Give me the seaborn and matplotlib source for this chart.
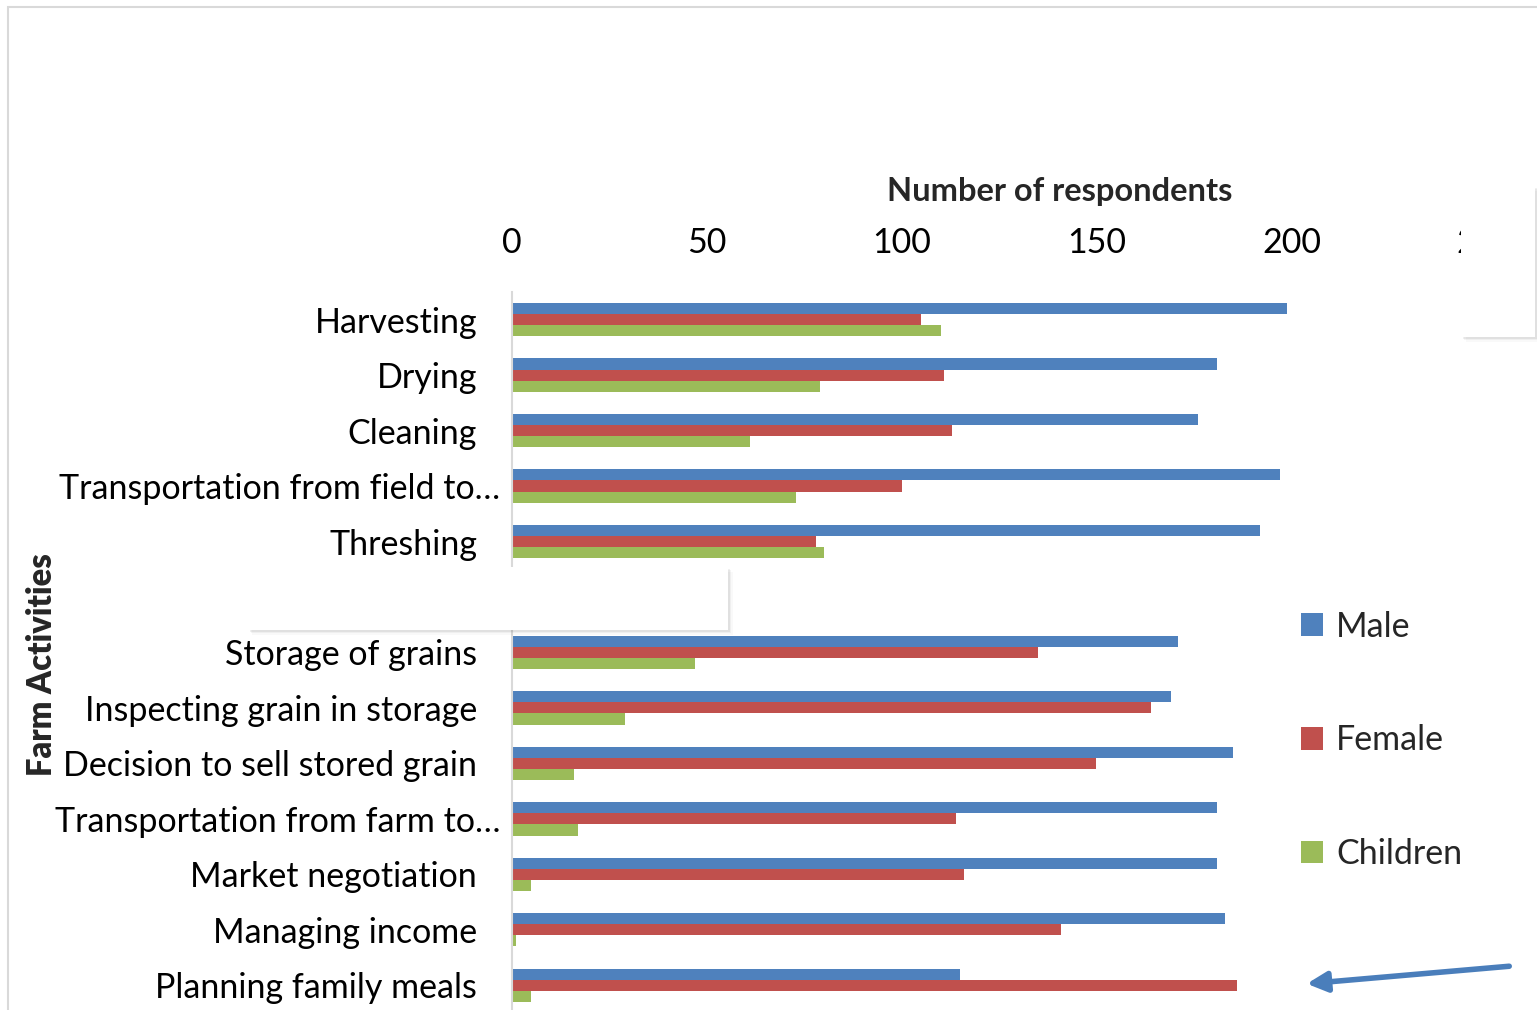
import matplotlib
matplotlib.use("Agg")
import matplotlib.pyplot as plt
import matplotlib.transforms as mtransforms
from matplotlib.patches import Rectangle, Patch
import numpy as np
import pandas as pd
import seaborn as sns

# Data
activities = ["Harvesting", "Drying", "Cleaning", "Transportation from field to\u2026",
              "Threshing", "", "Storage of grains", "Inspecting grain in storage",
              "Decision to sell stored grain", "Transportation from farm to\u2026",
              "Market negotiation", "Managing income", "Planning family meals"]
male = [199, 181, 176, 197, 192, 0, 171, 169, 185, 181, 181, 183, 115]
female = [105, 111, 113, 100, 78, 0, 135, 164, 150, 114, 116, 141, 186]
children = [110, 79, 61, 73, 80, 0, 47, 29, 16, 17, 5, 1, 5]
groups = ["Male", "Female", "Children"]
colors = ["#4F81BD", "#C0504D", "#9BBB59"]

df = pd.DataFrame({
    "activity": activities * 3,
    "group": np.repeat(groups, len(activities)),
    "value": male + female + children,
})

sns.set_theme(style="white")
plt.rcParams["font.family"] = ["Lato", "DejaVu Sans"]
FS = 24.5

fig = plt.figure(figsize=(15.37, 10.10), dpi=100)
ax = fig.add_axes([0.333, -0.003, 0.634, 0.714])

sns.barplot(data=df, x="value", y="activity", hue="group", order=activities,
            hue_order=groups, palette=colors, orient="h", width=0.6,
            linewidth=0, saturation=1, ax=ax, legend=False)

ax.set_xlim(0, 250)
ax.set_xticks([0, 50, 100, 150, 200, 250])
ax.xaxis.tick_top()
ax.xaxis.set_label_position("top")
ax.tick_params(axis="x", length=0, pad=24, labelsize=FS, colors="black")
ax.tick_params(axis="y", length=0, pad=25, labelsize=FS, colors="black")
ax.set_xlabel("Number of respondents", fontsize=FS - 1, fontweight="bold")
ax.xaxis.set_label_coords(0.562, 1.126)
ax.set_ylabel("")

for s in ["top", "right", "bottom"]:
    ax.spines[s].set_visible(False)
ax.spines["left"].set_color("#d9d9d9")
ax.spines["left"].set_linewidth(1.5)

# long truncated labels sit a little further right
shift = mtransforms.ScaledTranslation(23 / 100, 0, fig.dpi_scale_trans)
for lab in ax.get_yticklabels():
    if lab.get_text().startswith("Transportation"):
        lab.set_transform(lab.get_transform() + shift)

fig.text(42 / 1537, 1 - 665 / 1010, "Farm Activities", rotation=90, fontsize=FS - 1,
         fontweight="heavy", ha="center", va="center")

handles = [Patch(facecolor=c, edgecolor="none") for c in colors]
fig.legend(handles, groups, loc="upper left", bbox_to_anchor=(1270 / 1537, 1 - 580 / 1010),
           frameon=False, fontsize=FS, labelspacing=2.4, handlelength=0.65,
           handleheight=0.65, handletextpad=0.4)

# outer chart frame
fig.patches.append(Rectangle((8 / 1537, -0.1), 1.2, 1 - 7 / 1010 + 0.1, transform=fig.transFigure,
                             fill=False, edgecolor="#d9d9d9", linewidth=1.5, zorder=0))


def white_box(x0, y0, x1, y1):
    w, h = (x1 - x0) / 1537, (y1 - y0) / 1010
    fx, fy = x0 / 1537, 1 - y1 / 1010
    for k, a in enumerate([0.06, 0.04, 0.025]):
        fig.patches.append(Rectangle((fx + (k + 1) * 1.5 / 1537, fy - (k + 1) * 1.5 / 1010), w, h,
                                     transform=fig.transFigure, facecolor="black",
                                     edgecolor="none", alpha=a, zorder=5))
    fig.patches.append(Rectangle((fx, fy), w, h, transform=fig.transFigure,
                                 facecolor="white", edgecolor="none", zorder=6))


white_box(248, 567, 728, 630)
white_box(1461, 186, 1535, 337)

# arrow pointing to the last group
fig.patches.append(matplotlib.patches.FancyArrowPatch(
    (1512 / 1537, 1 - 966 / 1010), (1304 / 1537, 1 - 984 / 1010),
    transform=fig.transFigure, arrowstyle="-|>,head_length=12,head_width=6",
    mutation_scale=1, color="#4A7EBB", linewidth=4, zorder=7))

fig.savefig("out.png", dpi=100)
